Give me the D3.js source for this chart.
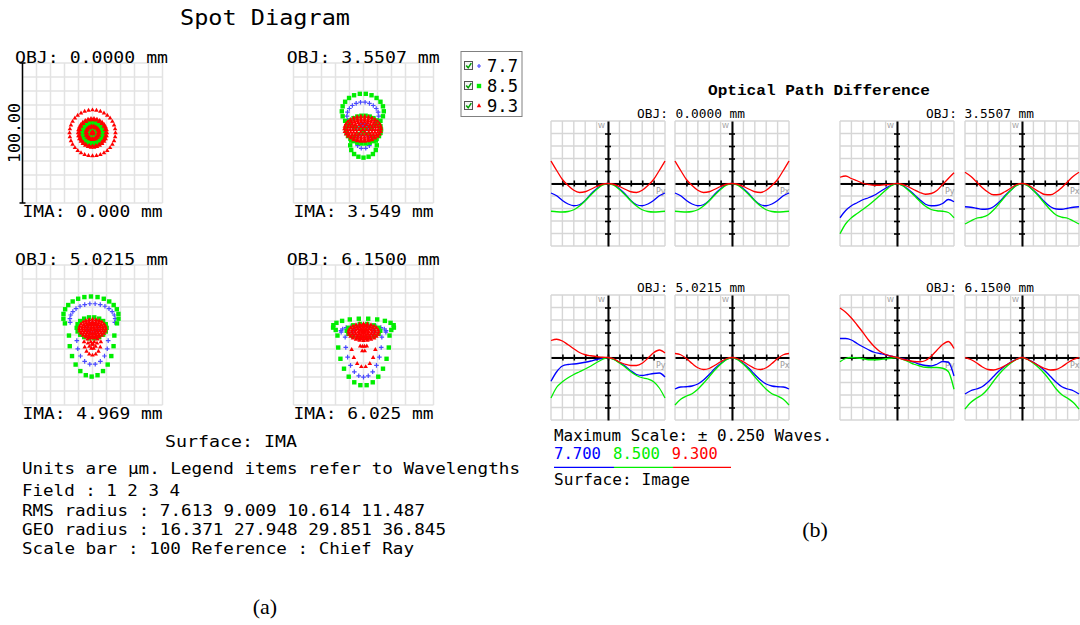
<!DOCTYPE html>
<html>
<head>
<meta charset="utf-8">
<script src="https://cdn.jsdelivr.net/npm/d3@7"></script>
<style>
  html, body { margin: 0; padding: 0; background: #fff; }
  svg { display: block; }
</style>
</head>
<body>
<svg id="chart" width="1080" height="625"></svg>
<script>
// ---------- Spot diagram data (µm, x right / y up, relative to chief ray) ----------
// Each ray ring: [cx, cy, rx, ry, rayCount, startAngle, endAngle]
const spotFields = ["OBJ: 0.0000 mm", "OBJ: 3.5507 mm", "OBJ: 5.0215 mm", "OBJ: 6.1500 mm"];
const spotImage = ["IMA: 0.000 mm", "IMA: 3.549 mm", "IMA: 4.969 mm", "IMA: 6.025 mm"];
const wavelengths = ["7.7", "8.5", "9.3"];

const spotBlue1 = [[0,0,7,7,36],[0,0,5.5,5.5,30],[0,0,4.2,4.2,24],[0,0,2.6,2.6,18],[0,0,1.6,1.6,12],[0,0,0.7,0.7,6]];
const spotGreen1 = [[0,0,8.4,8.4,36],[0,0,7.3,7.3,30],[0,0,6.1,6.1,24],[0,0,3.2,3.2,18],[0,0,2.0,2.0,12],[0,0,0.8,0.8,6]];
const spotRed1 = [[0,0,16.4,16.4,36],[0,0,10.3,10.3,30],[0,0,9.4,9.4,24],[0,0,4.9,4.9,18],[0,0,4.0,4.0,12],[0,0,0.8,0.8,6],[0,0,0,0,1]];

const spotBlue2 = [[-0.5,12.1,11.4,10,22],[0,-6,5.2,5.2,10],[0,4.3,3,2.5,10],[0,4.3,0.6,0.6,6]];
const spotGreen2 = [[-0.5,15.5,15,12.6,22],[0,-8.8,9.5,8.8,16],[0,2.4,12.5,10,26]];
const spotRed2 = [[-0.5,2.9,13.1,9,30],[-0.5,2.4,11,8,26],[-0.5,2.4,9,7,22],[-0.5,2.4,7,5.6,18],[-0.5,2.4,5,4,12],[-0.5,2.4,2.6,2.2,6],[-0.5,2.4,0,0,1]];

const spotBlue3 = [[0,11,16.2,11.4,15,-10,190],[0,-4,11.2,17.1,9,180,360],[0,5,4,3,10]];
const spotGreen3 = [[-1.1,13.2,19.8,14.3,16,-20,200],[-0.6,-0.4,16.2,29.3,12,180,360],[-0.6,5.1,10.7,7.6,18]];
const spotRed3 = [[0,4.4,9.5,6.7,24],[0,4.4,7.6,5.2,20],[0,4.4,5.7,4,16],[0,4.4,3.6,2.9,12],[0,4.4,1.5,1.2,6],
                  [0,-5,6,9.5,8,180,360],[0,-3,3.6,6.7,7,180,360],[0,-2,1.5,5,5,180,360]];

const spotBlue4 = [[0,-1.5,13.1,28.6,12,180,360],[0,2.7,16.2,4,12,-10,190],[0,2,8,4,12]];
const spotGreen4 = [[0,-0.4,18.6,35.7,13,180,360],[0,6,21.9,5.7,13,-25,205],[0,3,12,5,14]];
const spotRed4 = [[0,2,10.7,6,24],[0,2,8.3,4.8,20],[0,2,6,3.6,16],[0,2,3.6,2.4,12],[0,2,1.2,1,6],
                  [0,-4,9,19,7,200,340],[0,-2.4,2.9,9.5,10],[0,-3,1.5,6,6]];

const spotRings = [
  [spotBlue1, spotGreen1, spotRed1],
  [spotBlue2, spotGreen2, spotRed2],
  [spotBlue3, spotGreen3, spotRed3],
  [spotBlue4, spotGreen4, spotRed4]
];

const spotNotes = [
  "Units are µm. Legend items refer to Wavelengths",
  "Field : 1 2 3 4",
  "RMS radius : 7.613 9.009 10.614 11.487",
  "GEO radius : 16.371 27.948 29.851 36.845",
  "Scale bar : 100 Reference : Chief Ray"
];

// ---------- OPD fan data (waves), sampled across the normalized pupil ----------
const pupil = [-1.0,-0.9,-0.8,-0.7,-0.6,-0.5,-0.4,-0.3,-0.2,-0.1,0,0.1,0.2,0.3,0.4,0.5,0.6,0.7,0.8,0.9,1.0];
const opdFields = ["OBJ: 0.0000 mm", "OBJ: 3.5507 mm", "OBJ: 5.0215 mm", "OBJ: 6.1500 mm"];
const opdWaves = ["7.700", "8.500", "9.300"];

// field 1 (tangential and sagittal fans identical on axis)
const f1Blue  = [-0.038,-0.049,-0.068,-0.082,-0.089,-0.085,-0.068,-0.042,-0.021,-0.005,0,-0.005,-0.021,-0.042,-0.068,-0.085,-0.089,-0.082,-0.068,-0.049,-0.038];
const f1Green = [-0.111,-0.113,-0.114,-0.112,-0.105,-0.090,-0.069,-0.046,-0.024,-0.007,0,-0.007,-0.024,-0.046,-0.069,-0.090,-0.105,-0.112,-0.114,-0.113,-0.111];
const f1Red   = [0.090,0.052,0.016,-0.008,-0.027,-0.036,-0.033,-0.023,-0.012,-0.003,0,-0.003,-0.012,-0.023,-0.033,-0.036,-0.027,-0.008,0.016,0.052,0.090];

// field 2
const f2PyBlue  = [-0.137,-0.108,-0.089,-0.077,-0.065,-0.057,-0.047,-0.033,-0.019,-0.007,0,-0.008,-0.024,-0.044,-0.065,-0.083,-0.089,-0.088,-0.080,-0.064,-0.073];
const f2PyGreen = [-0.201,-0.161,-0.137,-0.120,-0.104,-0.087,-0.068,-0.048,-0.027,-0.009,0,-0.009,-0.027,-0.048,-0.071,-0.091,-0.104,-0.109,-0.111,-0.116,-0.137];
const f2PyRed   = [0.025,0.030,0.020,0.011,0.001,-0.004,-0.007,-0.007,-0.005,-0.003,0,-0.004,-0.013,-0.025,-0.036,-0.043,-0.040,-0.028,-0.004,0.020,0.043];
const f2PxBlue  = [-0.093,-0.095,-0.099,-0.103,-0.102,-0.093,-0.074,-0.049,-0.027,-0.008,0,-0.008,-0.027,-0.049,-0.074,-0.093,-0.102,-0.103,-0.099,-0.095,-0.093];
const f2PxGreen = [-0.162,-0.150,-0.139,-0.135,-0.126,-0.106,-0.080,-0.053,-0.028,-0.009,0,-0.009,-0.028,-0.053,-0.080,-0.106,-0.126,-0.135,-0.139,-0.150,-0.162];
const f2PxRed   = [0.045,0.029,0.007,-0.016,-0.034,-0.045,-0.044,-0.033,-0.019,-0.005,0,-0.005,-0.019,-0.033,-0.044,-0.045,-0.034,-0.016,0.007,0.029,0.045];

// field 3
const f3PyBlue  = [-0.095,-0.057,-0.034,-0.028,-0.026,-0.023,-0.019,-0.014,-0.008,-0.004,0,-0.007,-0.019,-0.034,-0.053,-0.068,-0.072,-0.068,-0.064,-0.062,-0.078];
const f3PyGreen = [-0.162,-0.119,-0.097,-0.081,-0.068,-0.057,-0.046,-0.034,-0.020,-0.008,0,-0.008,-0.022,-0.038,-0.057,-0.072,-0.081,-0.086,-0.097,-0.122,-0.162];
const f3PyRed   = [0.068,0.073,0.066,0.051,0.035,0.020,0.011,0.007,0.004,0.001,0,-0.005,-0.018,-0.027,-0.032,-0.032,-0.023,-0.003,0.019,0.030,0.018];
const f3PxBlue  = [-0.126,-0.118,-0.117,-0.114,-0.106,-0.090,-0.068,-0.044,-0.024,-0.008,0,-0.008,-0.024,-0.044,-0.068,-0.090,-0.106,-0.114,-0.117,-0.118,-0.126];
const f3PxGreen = [-0.190,-0.167,-0.154,-0.145,-0.127,-0.103,-0.077,-0.050,-0.027,-0.009,0,-0.009,-0.027,-0.050,-0.077,-0.103,-0.127,-0.145,-0.154,-0.167,-0.190];
const f3PxRed   = [0.016,0.011,-0.004,-0.024,-0.041,-0.048,-0.044,-0.031,-0.017,-0.005,0,-0.005,-0.017,-0.031,-0.044,-0.048,-0.041,-0.024,-0.004,0.011,0.016];

// field 4
const f4PyBlue  = [0.076,0.076,0.070,0.056,0.043,0.031,0.021,0.016,0.011,0.005,0,-0.005,-0.012,-0.019,-0.027,-0.032,-0.034,-0.027,-0.016,-0.019,-0.074];
const f4PyGreen = [-0.017,-0.004,0.000,-0.002,-0.005,-0.009,-0.009,-0.008,-0.005,-0.003,0,-0.008,-0.017,-0.027,-0.034,-0.039,-0.040,-0.040,-0.043,-0.056,-0.127];
const f4PyRed   = [0.198,0.181,0.158,0.130,0.101,0.070,0.044,0.024,0.012,0.005,0,-0.007,-0.012,-0.016,-0.017,-0.012,0.005,0.029,0.052,0.064,0.036];
const f4PxBlue  = [-0.146,-0.133,-0.126,-0.117,-0.099,-0.076,-0.053,-0.034,-0.019,-0.007,0,-0.007,-0.019,-0.034,-0.053,-0.076,-0.099,-0.117,-0.126,-0.133,-0.146];
const f4PxGreen = [-0.206,-0.180,-0.163,-0.149,-0.126,-0.095,-0.066,-0.042,-0.023,-0.008,0,-0.008,-0.023,-0.042,-0.066,-0.095,-0.126,-0.149,-0.163,-0.180,-0.206];
const f4PxRed   = [0.000,-0.008,-0.021,-0.037,-0.048,-0.050,-0.044,-0.033,-0.020,-0.008,0,-0.008,-0.020,-0.033,-0.044,-0.050,-0.048,-0.037,-0.021,-0.008,0.000];

const opdPanels = [
  { field: 0, fan: "Py", series: [f1Blue, f1Green, f1Red] },
  { field: 0, fan: "Px", series: [f1Blue, f1Green, f1Red] },
  { field: 1, fan: "Py", series: [f2PyBlue, f2PyGreen, f2PyRed] },
  { field: 1, fan: "Px", series: [f2PxBlue, f2PxGreen, f2PxRed] },
  { field: 2, fan: "Py", series: [f3PyBlue, f3PyGreen, f3PyRed] },
  { field: 2, fan: "Px", series: [f3PxBlue, f3PxGreen, f3PxRed] },
  { field: 3, fan: "Py", series: [f4PyBlue, f4PyGreen, f4PyRed] },
  { field: 3, fan: "Px", series: [f4PxBlue, f4PxGreen, f4PxRed] }
];

// ---------- drawing ----------
const svg = d3.select("#chart");
const MONO = "'DejaVu Sans Mono', monospace";
const lineColors = ["#0000ff", "#00ee00", "#ff0000"];
const spotColors = ["#4a4aff", "#00ee00", "#ff0000"];

function label(parent, str, x, y, size, width, opts = {}) {
  const t = parent.append("text")
    .attr("x", x).attr("y", y)
    .attr("font-family", opts.family || MONO)
    .attr("font-size", size)
    .attr("font-weight", opts.weight || "normal")
    .attr("fill", opts.fill || "#000")
    .text(str);
  if (width) t.attr("textLength", width).attr("lengthAdjust", "spacingAndGlyphs");
  if (opts.anchor) t.attr("text-anchor", opts.anchor);
  return t;
}

// ===== Spot diagram =====
const spotG = svg.append("g");
label(spotG, "Spot Diagram", 180, 25, 20.5, 170);

const SPOT = 140;
const spotOrigins = [[22.5, 63], [293.5, 63], [22.5, 265], [293.5, 265]];

function ringPoints(r) {
  const [cx, cy, rx, ry, n, a0 = 0, a1 = 360] = r;
  const full = (a1 - a0) >= 360;
  const pts = [];
  const count = full ? n : n + 1;
  for (let i = 0; i < count; i++) {
    const a = (a0 + (a1 - a0) * i / n) * Math.PI / 180;
    pts.push([cx + rx * Math.cos(a), cy + ry * Math.sin(a)]);
  }
  return pts;
}

const triPath = d3.symbol().type(d3.symbolTriangle).size(9)();

spotOrigins.forEach(([ox, oy], fi) => {
  const g = spotG.append("g");
  const sx = d3.scaleLinear().domain([-50, 50]).range([ox, ox + SPOT]);
  const sy = d3.scaleLinear().domain([-50, 50]).range([oy + SPOT, oy]);
  const gridVals = d3.range(-50, 50.01, 10);
  g.selectAll(".gv").data(gridVals).enter().append("line")
    .attr("x1", d => sx(d)).attr("x2", d => sx(d))
    .attr("y1", oy).attr("y2", oy + SPOT)
    .attr("stroke", "#e3e3e3").attr("stroke-width", 1.5);
  g.selectAll(".gh").data(gridVals).enter().append("line")
    .attr("y1", d => sy(d)).attr("y2", d => sy(d))
    .attr("x1", ox).attr("x2", ox + SPOT)
    .attr("stroke", "#e3e3e3").attr("stroke-width", 1.5);

  const rings = spotRings[fi];
  // wavelength 1: plus marks
  const bluePts = rings[0].flatMap(ringPoints);
  g.selectAll(".b").data(bluePts).enter().append("path")
    .attr("d", d => `M${sx(d[0]) - 2.3},${sy(d[1])}H${sx(d[0]) + 2.3}M${sx(d[0])},${sy(d[1]) - 2.3}V${sy(d[1]) + 2.3}`)
    .attr("stroke", spotColors[0]).attr("stroke-width", 1.2);
  // wavelength 2: squares
  const greenPts = rings[1].flatMap(ringPoints);
  g.selectAll(".s").data(greenPts).enter().append("rect")
    .attr("x", d => sx(d[0]) - 2.2).attr("y", d => sy(d[1]) - 2.2)
    .attr("width", 4.4).attr("height", 4.4)
    .attr("fill", spotColors[1]);
  // wavelength 3: triangles
  const redPts = rings[2].flatMap(ringPoints);
  g.selectAll(".t").data(redPts).enter().append("path")
    .attr("d", triPath)
    .attr("transform", d => `translate(${sx(d[0])},${sy(d[1])})`)
    .attr("fill", spotColors[2]);

  const objX = fi % 2 === 0 ? 15 : 286.7;
  label(g, spotFields[fi], objX, oy, 16, 153);
  label(g, spotImage[fi], ox, oy + SPOT + 14, 16, 140);
});

// scale bar on the first field
{
  const ox = spotOrigins[0][0], oy = spotOrigins[0][1];
  const bar = d3.scaleLinear().domain([0, 100]).range([oy + SPOT, oy]);
  spotG.append("line").attr("x1", ox).attr("x2", ox)
    .attr("y1", bar(0)).attr("y2", bar(100)).attr("stroke", "#000").attr("stroke-width", 1.5);
  spotG.append("line").attr("x1", ox - 3).attr("x2", ox + 3)
    .attr("y1", bar(0)).attr("y2", bar(0)).attr("stroke", "#000").attr("stroke-width", 1.5);
  spotG.append("line").attr("x1", ox - 3).attr("x2", ox + 3)
    .attr("y1", bar(100)).attr("y2", bar(100)).attr("stroke", "#000").attr("stroke-width", 1.5);
  label(spotG, "100.00", 0, 0, 16, 60)
    .attr("transform", `translate(20,163) rotate(-90)`);
}

// legend
{
  const lg = spotG.append("g");
  lg.append("rect").attr("x", 461).attr("y", 51.5).attr("width", 61).attr("height", 65)
    .attr("fill", "#fff").attr("stroke", "#808080").attr("stroke-width", 1);
  wavelengths.forEach((w, i) => {
    const cy = 66 + i * 20;
    lg.append("rect").attr("x", 464.5).attr("y", cy - 4.5).attr("width", 8).attr("height", 8)
      .attr("fill", "#f4f4f4").attr("stroke", "#555").attr("stroke-width", 1);
    lg.append("path").attr("d", `M466.2,${cy - 0.5}L468.2,${cy + 1.8}L471.3,${cy - 2.8}`)
      .attr("fill", "none").attr("stroke", "#00a000").attr("stroke-width", 1.5);
    if (i === 0) {
      lg.append("path").attr("d", `M477,${cy}H481M479,${cy - 2}V${cy + 2}`)
        .attr("stroke", spotColors[0]).attr("stroke-width", 1.2);
    } else if (i === 1) {
      lg.append("rect").attr("x", 476.8).attr("y", cy - 2.2).attr("width", 4.4).attr("height", 4.4)
        .attr("fill", spotColors[1]);
    } else {
      lg.append("path").attr("d", d3.symbol().type(d3.symbolTriangle).size(9)())
        .attr("transform", `translate(479,${cy})`).attr("fill", spotColors[2]);
    }
    label(lg, w, 487, cy + 6, 17, 31);
  });
}

label(spotG, "Surface: IMA", 165, 447, 16, 132);
const noteWidths = [498, 158, 403, 424, 392];
spotNotes.forEach((s, i) => {
  label(spotG, s, 22, 474 + [0, 22, 42, 61, 80][i], 16, noteWidths[i]);
});
label(spotG, "(a)", 265, 614, 22, null, { family: "'Liberation Serif', 'Times New Roman', serif", anchor: "middle" });

// ===== Optical path difference fans =====
const opdG = svg.append("g");
label(opdG, "Optical Path Difference", 708, 95, 15, 222, { family: "'Liberation Mono', 'Courier New', monospace", weight: "bold" });

const PW = 114, PH = 125;
const opdOrigins = [[551, 121], [675, 121], [840, 121], [965, 121], [551, 295], [675, 295], [840, 295], [965, 295]];

opdPanels.forEach((p, i) => {
  const [ox, oy] = opdOrigins[i];
  const g = opdG.append("g");
  const x = d3.scaleLinear().domain([-1, 1]).range([ox, ox + PW]);
  const y = d3.scaleLinear().domain([-0.25, 0.25]).range([oy + PH, oy]);
  const xg = d3.range(-1, 1.001, 0.2);
  const yg = d3.range(-0.25, 0.2501, 0.05);
  g.selectAll(".gv").data(xg).enter().append("line")
    .attr("x1", d => x(d)).attr("x2", d => x(d)).attr("y1", oy).attr("y2", oy + PH)
    .attr("stroke", "#d6d6d6").attr("stroke-width", 1.4);
  g.selectAll(".gh").data(yg).enter().append("line")
    .attr("y1", d => y(d)).attr("y2", d => y(d)).attr("x1", ox).attr("x2", ox + PW)
    .attr("stroke", "#d6d6d6").attr("stroke-width", 1.4);

  // axes through the origin, ticks on both sides
  const xAxis = d3.axisBottom(x).tickValues(xg.slice(1, -1)).tickSize(3).tickSizeOuter(0).tickFormat("");
  const yAxis = d3.axisLeft(y).tickValues(yg.slice(1, -1)).tickSize(3).tickSizeOuter(0).tickFormat("");
  const ax = g.append("g").attr("transform", `translate(0,${y(0)})`).call(xAxis);
  ax.selectAll(".tick line").attr("y1", -3);
  const ay = g.append("g").attr("transform", `translate(${x(0)},0)`).call(yAxis);
  ay.selectAll(".tick line").attr("x1", 3);
  [ax, ay].forEach(a => {
    a.select(".domain").attr("stroke", "#000").attr("stroke-width", 2);
    a.selectAll(".tick line").attr("stroke", "#000").attr("stroke-width", 1.6);
  });

  label(g, "W", x(0) - 10, oy + 7, 7, null, { fill: "#9a9a9a", family: "'DejaVu Sans', sans-serif" });
  label(g, p.fan, ox + PW - 9, y(0) + 10, 8, null, { fill: "#9a9a9a", family: "'DejaVu Sans', sans-serif" });

  const line = d3.line().x((d, j) => x(pupil[j])).y(d => y(d)).curve(d3.curveMonotoneX);
  p.series.forEach((s, k) => {
    g.append("path").datum(s).attr("d", line)
      .attr("fill", "none").attr("stroke", lineColors[k]).attr("stroke-width", 1.3);
  });

  if (i % 2 === 0) {
    label(g, opdFields[p.field], ox + 86, oy - 3, 12.5, 108);
  }
});

label(opdG, "Maximum Scale: ± 0.250 Waves.", 554, 441, 15, 278);
{
  const starts = [554, 613, 671.7];
  const widths = [47, 47, 46];
  const ulStart = [554, 614, 673], ulEnd = [614, 673, 731];
  opdWaves.forEach((w, i) => {
    label(opdG, w, starts[i], 459, 15, widths[i], { fill: lineColors[i] });
    opdG.append("line").attr("x1", ulStart[i]).attr("x2", ulEnd[i]).attr("y1", 467.3).attr("y2", 467.3)
      .attr("stroke", lineColors[i]).attr("stroke-width", 1.2);
  });
}
label(opdG, "Surface: Image", 554, 485, 15, 136);
label(opdG, "(b)", 815, 537, 22, null, { family: "'Liberation Serif', 'Times New Roman', serif", anchor: "middle" });
</script>
</body>
</html>
